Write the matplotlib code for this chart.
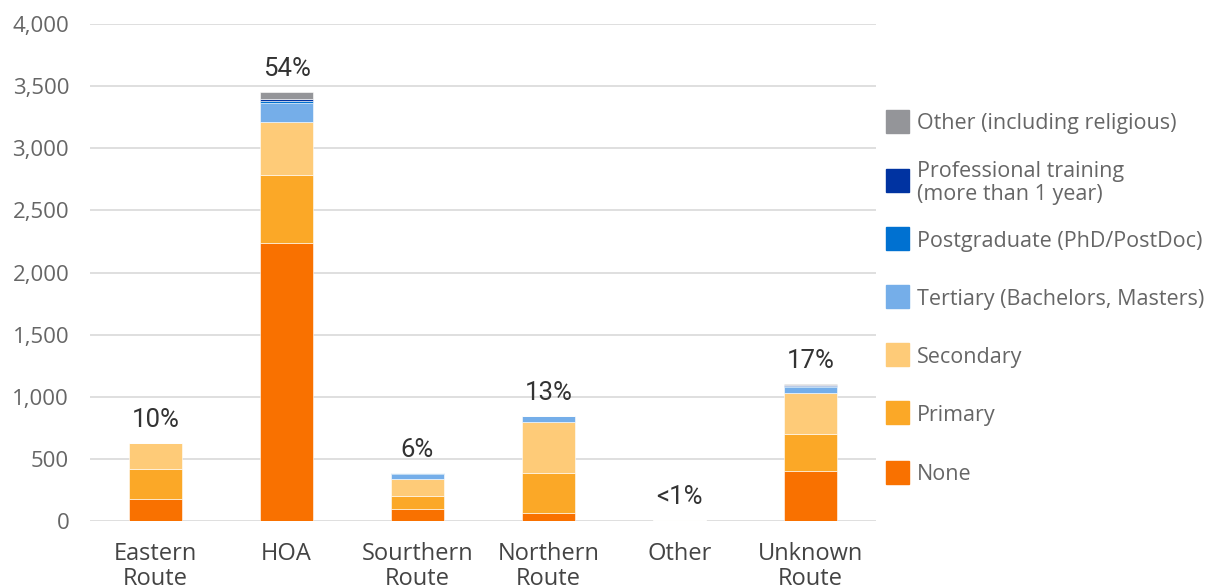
import matplotlib.pyplot as plt
from matplotlib.patches import Rectangle
from matplotlib.ticker import FuncFormatter
import numpy as np

#-- data ----------------------------------------------------------------------
routes = ["Eastern\nRoute", "HOA", "Sourthern\nRoute", "Northern\nRoute",
          "Other", "Unknown\nRoute"]
share_labels = ["10%", "54%", "6%", "13%", "<1%", "17%"]

none_vals      = [180, 2236,  99,  67, 2, 405]
primary_vals   = [239,  549, 102, 322, 2, 295]
secondary_vals = [206,  425, 140, 411, 2, 328]
tertiary_vals  = [  5,  157,  40,  45, 0,  53]
postgrad_vals  = [  0,   13,   3,   0, 0,   5]
profess_vals   = [  0,   17,   0,   0, 0,   6]
other_vals     = [  0,   54,   1,   3, 0,  13]

series_names = ["None", "Primary", "Secondary",
                "Tertiary (Bachelors, Masters)",
                "Postgraduate (PhD/PostDoc)",
                "Professional training\n(more than 1 year)",
                "Other (including religious)"]
series_vals = [none_vals, primary_vals, secondary_vals, tertiary_vals,
               postgrad_vals, profess_vals, other_vals]
series_colors = ["#F97100", "#FBA827", "#FECB78", "#75AEE9",
                 "#0071D1", "#0033A1", "#949599"]
#------------------------------------------------------------------------------

plt.rcParams['font.family'] = ['Open Sans', 'DejaVu Sans']

fig = plt.figure(figsize=(12.05, 5.87), dpi=100)
ax = fig.add_axes([90/1205, 1-521/587, 786/1205, (521-24)/587])

x = np.arange(len(routes))
bottom = np.zeros(len(routes))
for vals, col in zip(series_vals, series_colors):
    vals = np.array(vals, dtype=float)
    ax.bar(x, vals, 0.4, bottom=bottom, color=col, edgecolor='white',
           linewidth=0.4, zorder=3)
    bottom += vals

#-- percentage labels on top of each stack
for xi, top, lab in zip(x, bottom, share_labels):
    ax.annotate(lab, (xi, top), xytext=(0, 8), textcoords='offset points',
                ha='center', va='bottom', fontsize=18.5, color='#333333',
                family=['Roboto', 'DejaVu Sans'])

ax.set_xlim(-0.5, len(routes)-0.5)
ax.set_ylim(0, 4000)
ax.set_yticks(np.arange(0, 4001, 500))
ax.yaxis.set_major_formatter(FuncFormatter(lambda v, p: f"{int(v):,}"))
ax.set_xticks(x)
ax.set_xticklabels(routes, fontsize=17, color='#444444', linespacing=1.05)
ax.tick_params(axis='y', labelsize=16, labelcolor='#666666', length=0, pad=15)
ax.tick_params(axis='x', length=0, pad=15)
ax.grid(axis='y', color='#d9d9d9', linewidth=1.2, zorder=0)
for s in ax.spines.values():
    s.set_visible(False)

#-- legend drawn by hand at the right
legend_y = [122, 181, 239, 297, 355, 413, 473]
for (name, col), yy in zip(list(zip(series_names, series_colors))[::-1], legend_y):
    fig.patches.append(Rectangle((886/1205, 1-(yy+11)/587), 23/1205, 23/587,
                                 transform=fig.transFigure, color=col))
    fig.text(917/1205, 1-(yy+2)/587, name, ha='left', va='center', fontsize=15.5,
             color='#666666', linespacing=1.15)

fig.savefig('out.png', dpi=100)
